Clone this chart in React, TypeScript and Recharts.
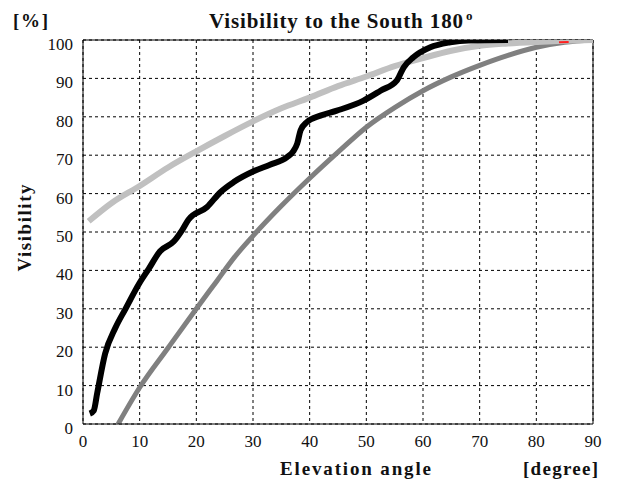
import { LineChart, Line, XAxis, YAxis, CartesianGrid, ReferenceLine } from 'recharts'

// elevation angle [degree] -> visibility [%]
const blackX = [1.2, 1.9, 2.5, 3.9, 5.7, 7.5, 10, 11.6, 13.6, 16, 17.5, 18.6, 21.9, 24.2, 26.6, 30.1, 33, 36, 37.1, 37.8, 38.4, 39.5, 41.9, 44.8, 49.5, 52.5, 55.4, 56.6, 58.3, 61.3, 64.8, 68, 75]
const blackY = [2.7, 3.5, 8, 18.3, 25, 30, 36.8, 40.4, 45, 47.5, 50.5, 53.2, 56.5, 60.3, 63, 65.8, 67.5, 69.5, 71, 73, 76.5, 78.6, 80.3, 81.6, 84.2, 86.8, 89.5, 92.9, 95.5, 98.1, 99.4, 99.9, 100]

const lightX = [1, 5, 10, 15, 20, 25, 30, 35, 40, 45, 50, 55, 60, 65, 70, 75, 80, 85, 90]
const lightY = [52.8, 57.5, 62, 66.8, 71, 75, 78.8, 82.2, 85, 88, 90.5, 93.2, 95.3, 97.2, 98.5, 99.1, 99.5, 99.8, 100]

const darkX = [6.2, 10, 15, 20, 23.6, 26.6, 30, 34.8, 40, 45, 50, 55, 60, 65, 70, 75, 80, 85, 90]
const darkY = [0, 9.5, 19.8, 30, 37.2, 43.2, 49, 56.5, 64, 70.8, 77.3, 82.4, 86.8, 90.4, 93.4, 96, 98.1, 99.4, 100]

const redX = [84, 85.7]
const redY = [99.4, 99.5]

const xTicks = [0, 10, 20, 30, 40, 50, 60, 70, 80, 90]
const yTicks = [0, 10, 20, 30, 40, 50, 60, 70, 80, 90, 100]

const toRows = (xs: number[], ys: number[]) => xs.map((x, i) => ({ x, y: ys[i] }))

const serif = '"Liberation Serif", "Times New Roman", serif'
const ink = '#111'

function XTick({ x, payload }: any) {
  return (
    <text x={x} y={447} textAnchor="middle" fontFamily={serif} fontSize={17} fill={ink}>
      {payload.value}
    </text>
  )
}

function YTick({ y, payload }: any) {
  return (
    <text x={73} y={y + 10} textAnchor="end" fontFamily={serif} fontSize={17} fill={ink}>
      {payload.value}
    </text>
  )
}

export default function App() {
  return (
    <div style={{ position: 'absolute', left: 0, top: 0, width: 619, height: 489, background: '#fff' }}>
      <LineChart width={619} height={489} margin={{ top: 40, right: 26, bottom: 0, left: 0 }}>
        <CartesianGrid stroke="#000" strokeDasharray="3 3" vertical horizontal />
        <XAxis
          type="number"
          dataKey="x"
          domain={[0, 90]}
          ticks={xTicks}
          allowDataOverflow
          height={65}
          tickLine={false}
          axisLine={{ stroke: '#000' }}
          tick={<XTick />}
        />
        <YAxis
          type="number"
          dataKey="y"
          domain={[0, 100]}
          ticks={yTicks}
          allowDataOverflow
          width={83}
          tickLine={false}
          axisLine={{ stroke: '#000' }}
          tick={<YTick />}
        />
        <ReferenceLine y={100} stroke="#000" strokeWidth={1} />
        <ReferenceLine x={90} stroke="#000" strokeWidth={1} />
        <Line data={toRows(darkX, darkY)} dataKey="y" type="monotone" stroke="#808080" strokeWidth={5} dot={false} isAnimationActive={false} />
        <Line data={toRows(lightX, lightY)} dataKey="y" type="monotone" stroke="#c0c0c0" strokeWidth={6} dot={false} isAnimationActive={false} />
        <Line data={toRows(blackX, blackY)} dataKey="y" type="monotone" stroke="#000" strokeWidth={6} strokeLinejoin="round" dot={false} isAnimationActive={false} />
        <Line data={toRows(redX, redY)} dataKey="y" type="linear" stroke="#ff2020" strokeWidth={2} dot={false} isAnimationActive={false} />
      </LineChart>
      <svg width={619} height={489} style={{ position: 'absolute', left: 0, top: 0, pointerEvents: 'none' }}>
        <g fontFamily={serif} fontWeight="bold" fill={ink}>
          <text x={209} y={28} fontSize={21} textLength={254} lengthAdjust="spacing">
            Visibility to the South 180
          </text>
          <text x={466} y={20} fontSize={13}>o</text>
          <text x={13} y={27} fontSize={19} textLength={35} lengthAdjust="spacing">[%]</text>
          <text
            x={0}
            y={0}
            fontSize={19}
            textAnchor="middle"
            textLength={87}
            lengthAdjust="spacing"
            transform="translate(31 228) rotate(-90)"
          >
            Visibility
          </text>
          <text x={280} y={475} fontSize={19} textLength={151} lengthAdjust="spacing">
            Elevation angle
          </text>
          <text x={523} y={475} fontSize={19} textLength={75} lengthAdjust="spacing">
            [degree]
          </text>
        </g>
      </svg>
    </div>
  )
}
